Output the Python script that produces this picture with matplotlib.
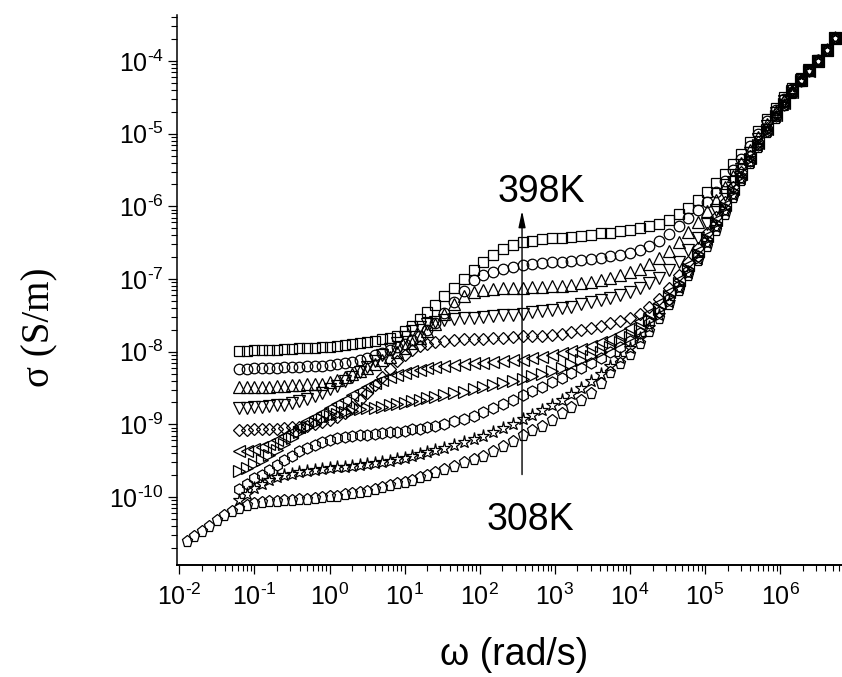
import numpy as np
import matplotlib.pyplot as plt
from matplotlib.ticker import LogLocator, NullFormatter, FuncFormatter

plt.rcParams['font.family'] = ['Liberation Sans', 'DejaVu Sans']
plt.rcParams['mathtext.fontset'] = 'custom'
plt.rcParams['mathtext.rm'] = 'Liberation Sans'
plt.rcParams['mathtext.it'] = 'Liberation Sans:italic'

# log10 of angular frequency (rad/s), shared by all temperatures
log_w = [-1.2, -1.1, -1.0, -0.9, -0.8, -0.7, -0.6, -0.5, -0.4, -0.3, -0.2, -0.1, 0.0,
         0.1, 0.2, 0.3, 0.4, 0.5, 0.6, 0.7, 0.8, 0.9, 1.0, 1.1, 1.2, 1.3, 1.4,
         1.53, 1.66, 1.79, 1.92, 2.05, 2.18, 2.31, 2.44, 2.57, 2.70, 2.83, 2.96, 3.09,
         3.22, 3.35, 3.48, 3.61, 3.74, 3.87, 4.00, 4.13, 4.26, 4.39, 4.52, 4.65, 4.78, 4.91,
         5.03, 5.14, 5.26, 5.37, 5.48, 5.60, 5.71, 5.82, 5.94, 6.05, 6.16, 6.28, 6.39,
         6.50, 6.62, 6.73]
# the 308K sweep starts lower
log_w_low = [-1.9, -1.8, -1.7, -1.6, -1.5, -1.4, -1.3]

# log10 of conductivity (S/m)
s398 = [-7.99, -7.99, -7.98, -7.98, -7.97, -7.97, -7.96, -7.96, -7.95, -7.95, -7.95, -7.94, -7.93,
        -7.92, -7.91, -7.90, -7.88, -7.86, -7.85, -7.83, -7.81, -7.78, -7.72, -7.64, -7.55, -7.46, -7.36,
        -7.23, -7.12, -7.00, -6.88, -6.77, -6.67, -6.59, -6.53, -6.49, -6.47, -6.45, -6.44, -6.43,
        -6.42, -6.41, -6.39, -6.37, -6.36, -6.34, -6.32, -6.30, -6.27, -6.24, -6.19, -6.11, -6.02, -5.91,
        -5.80, -5.68, -5.55, -5.42, -5.28, -5.12, -4.96, -4.80, -4.64, -4.50, -4.37, -4.24, -4.12,
        -3.99, -3.85, -3.68]
s388 = [-8.24, -8.24, -8.23, -8.23, -8.22, -8.22, -8.21, -8.21, -8.21, -8.20, -8.20, -8.19, -8.18,
        -8.17, -8.16, -8.14, -8.12, -8.09, -8.05, -8.02, -7.98, -7.94, -7.90, -7.84, -7.78, -7.70, -7.60,
        -7.47, -7.32, -7.16, -7.02, -6.95, -6.90, -6.86, -6.83, -6.81, -6.79, -6.78, -6.77, -6.76,
        -6.75, -6.74, -6.72, -6.71, -6.69, -6.67, -6.64, -6.60, -6.55, -6.48, -6.38, -6.27, -6.16, -6.05,
        -5.94, -5.80, -5.65, -5.50, -5.35, -5.17, -5.00, -4.83, -4.67, -4.52, -4.39, -4.25, -4.12,
        -3.99, -3.85, -3.68]
s378 = [-8.49, -8.49, -8.48, -8.48, -8.48, -8.47, -8.47, -8.46, -8.46, -8.45, -8.45, -8.44, -8.42,
        -8.39, -8.35, -8.31, -8.27, -8.22, -8.17, -8.12, -8.07, -8.01, -7.95, -7.88, -7.81, -7.72, -7.62,
        -7.48, -7.35, -7.24, -7.18, -7.15, -7.14, -7.13, -7.12, -7.12, -7.11, -7.11, -7.10, -7.09,
        -7.08, -7.06, -7.04, -7.02, -6.99, -6.95, -6.91, -6.86, -6.79, -6.71, -6.61, -6.49, -6.35, -6.21,
        -6.07, -5.91, -5.74, -5.58, -5.41, -5.22, -5.04, -4.86, -4.69, -4.54, -4.40, -4.26, -4.13,
        -4.00, -3.85, -3.68]
s368 = [-8.77, -8.77, -8.76, -8.76, -8.75, -8.74, -8.73, -8.71, -8.68, -8.65, -8.61, -8.57, -8.52,
        -8.47, -8.41, -8.35, -8.28, -8.21, -8.13, -8.05, -7.96, -7.88, -7.80, -7.72, -7.66, -7.62, -7.59,
        -7.57, -7.55, -7.54, -7.53, -7.52, -7.51, -7.50, -7.49, -7.48, -7.46, -7.44, -7.42, -7.40,
        -7.38, -7.35, -7.32, -7.29, -7.26, -7.22, -7.18, -7.12, -7.06, -6.98, -6.88, -6.76, -6.60, -6.43,
        -6.24, -6.05, -5.85, -5.66, -5.48, -5.27, -5.08, -4.89, -4.71, -4.55, -4.41, -4.26, -4.13,
        -4.00, -3.85, -3.68]
s358 = [-9.08, -9.08, -9.07, -9.07, -9.06, -9.06, -9.05, -9.04, -9.03, -9.02, -9.00, -8.97, -8.94,
        -8.90, -8.84, -8.76, -8.67, -8.57, -8.46, -8.35, -8.24, -8.13, -8.04, -7.97, -7.92, -7.89, -7.87,
        -7.85, -7.84, -7.83, -7.82, -7.82, -7.81, -7.81, -7.80, -7.79, -7.79, -7.78, -7.77, -7.75,
        -7.73, -7.70, -7.67, -7.64, -7.61, -7.58, -7.54, -7.48, -7.39, -7.28, -7.12, -6.95, -6.77, -6.57,
        -6.36, -6.15, -5.94, -5.73, -5.53, -5.31, -5.11, -4.92, -4.73, -4.57, -4.42, -4.26, -4.13,
        -4.00, -3.85, -3.68]
s348 = [-9.37, -9.36, -9.34, -9.31, -9.27, -9.22, -9.16, -9.10, -9.03, -8.96, -8.90, -8.84, -8.78,
        -8.72, -8.66, -8.60, -8.54, -8.48, -8.43, -8.39, -8.35, -8.32, -8.29, -8.27, -8.25, -8.23, -8.21,
        -8.19, -8.18, -8.17, -8.16, -8.15, -8.14, -8.13, -8.12, -8.11, -8.09, -8.07, -8.05, -8.02,
        -7.99, -7.96, -7.92, -7.87, -7.82, -7.75, -7.68, -7.58, -7.47, -7.33, -7.18, -7.01, -6.81, -6.61,
        -6.41, -6.19, -5.98, -5.76, -5.56, -5.33, -5.13, -4.93, -4.74, -4.58, -4.42, -4.26, -4.14,
        -4.00, -3.85, -3.68]
s338 = [-9.64, -9.60, -9.55, -9.49, -9.42, -9.35, -9.27, -9.19, -9.11, -9.04, -8.98, -8.93, -8.89,
        -8.86, -8.83, -8.81, -8.79, -8.78, -8.77, -8.76, -8.74, -8.72, -8.70, -8.68, -8.66, -8.64, -8.62,
        -8.60, -8.57, -8.55, -8.52, -8.49, -8.46, -8.43, -8.40, -8.38, -8.34, -8.30, -8.26, -8.22,
        -8.17, -8.12, -8.06, -8.00, -7.94, -7.87, -7.80, -7.70, -7.57, -7.41, -7.24, -7.06, -6.86, -6.66,
        -6.45, -6.23, -6.01, -5.79, -5.58, -5.35, -5.15, -4.95, -4.75, -4.59, -4.43, -4.27, -4.14,
        -4.00, -3.85, -3.68]
s328 = [-9.89, -9.82, -9.74, -9.69, -9.63, -9.56, -9.49, -9.43, -9.37, -9.32, -9.28, -9.24, -9.21,
        -9.19, -9.17, -9.16, -9.15, -9.14, -9.13, -9.12, -9.11, -9.10, -9.09, -9.07, -9.06, -9.04, -9.02,
        -8.99, -8.96, -8.92, -8.88, -8.83, -8.78, -8.72, -8.66, -8.60, -8.54, -8.48, -8.42, -8.36,
        -8.29, -8.22, -8.15, -8.08, -8.00, -7.93, -7.85, -7.74, -7.61, -7.45, -7.28, -7.10, -6.89, -6.69,
        -6.48, -6.26, -6.04, -5.81, -5.60, -5.37, -5.16, -4.96, -4.76, -4.60, -4.43, -4.27, -4.14,
        -4.00, -3.85, -3.68]
s318 = [-10.04, -9.96, -9.88, -9.82, -9.77, -9.73, -9.70, -9.68, -9.66, -9.64, -9.63, -9.61, -9.60,
        -9.59, -9.58, -9.57, -9.56, -9.54, -9.53, -9.52, -9.50, -9.48, -9.46, -9.43, -9.41, -9.38, -9.35,
        -9.32, -9.28, -9.24, -9.20, -9.16, -9.11, -9.05, -8.99, -8.93, -8.87, -8.80, -8.73, -8.66,
        -8.58, -8.50, -8.41, -8.31, -8.20, -8.08, -7.95, -7.81, -7.66, -7.49, -7.31, -7.12, -6.92, -6.72,
        -6.51, -6.29, -6.07, -5.84, -5.62, -5.39, -5.17, -4.97, -4.77, -4.60, -4.44, -4.27, -4.14,
        -4.00, -3.85, -3.68]
s308_low = [-10.61, -10.54, -10.47, -10.40, -10.32, -10.25, -10.19]
s308 = [-10.15, -10.11, -10.08, -10.07, -10.06, -10.05, -10.04, -10.04, -10.03, -10.02, -10.01, -10.00, -9.99,
        -9.98, -9.96, -9.94, -9.93, -9.91, -9.89, -9.86, -9.84, -9.81, -9.79, -9.76, -9.73, -9.70, -9.66,
        -9.62, -9.57, -9.52, -9.47, -9.43, -9.37, -9.30, -9.23, -9.15, -9.08, -9.02, -8.94, -8.85,
        -8.76, -8.67, -8.57, -8.43, -8.28, -8.15, -8.03, -7.88, -7.71, -7.53, -7.35, -7.15, -6.95, -6.74,
        -6.54, -6.33, -6.10, -5.87, -5.64, -5.40, -5.18, -4.98, -4.78, -4.61, -4.44, -4.27, -4.14,
        -4.00, -3.85, -3.68]

temps = [398, 388, 378, 368, 358, 348, 338, 328, 318, 308]
curves = [s398, s388, s378, s368, s358, s348, s338, s328, s318, s308_low + s308]
freqs = [log_w] * 9 + [log_w_low + log_w]
markers = ['s', 'o', '^', 'v', 'D', '<', '>', 'h', '*', 'p']
msizes = [7.0, 7.6, 8.4, 8.4, 6.2, 8.4, 8.4, 8.0, 9.5, 8.2]


def decade_label(v, pos):
    e = int(round(np.log10(v)))
    return '$10^{%s}$' % str(e).replace('-', '\u2010')


fig = plt.figure(figsize=(8.42, 6.77), dpi=100)
ax = fig.add_axes([177 / 842, 112 / 677, 665 / 842, 550 / 677])

for T, w, s, m, ms in zip(temps, freqs, curves, markers, msizes):
    ax.plot(10 ** np.array(w), 10 ** np.array(s), linestyle='none', marker=m, ms=ms,
            mfc='none', mec='black', mew=0.9, label='%dK' % T)

ax.set_xscale('log')
ax.set_yscale('log')
ax.set_xlim(10 ** -2.031, 10 ** 6.824)
ax.set_ylim(10 ** -10.935, 10 ** -3.367)

for a in (ax.xaxis, ax.yaxis):
    a.set_major_locator(LogLocator(base=10, numticks=30))
    a.set_major_formatter(FuncFormatter(decade_label))
    a.set_minor_locator(LogLocator(base=10, subs=np.arange(2, 10), numticks=200))
    a.set_minor_formatter(NullFormatter())

ax.spines['top'].set_visible(False)
ax.spines['right'].set_visible(False)
ax.spines['left'].set_linewidth(1.1)
ax.spines['bottom'].set_linewidth(1.4)
ax.tick_params(which='major', direction='out', length=6.5, width=0.9, labelsize=18)
ax.tick_params(which='minor', direction='out', length=4, width=0.8)
ax.tick_params(axis='x', which='major', pad=7)
ax.tick_params(axis='y', which='major', pad=3)

ax.set_xlabel('ω (rad/s)', fontsize=27)
ax.xaxis.label.set_va('center')
ax.xaxis.set_label_coords((514 - 177) / 665, (565 - 655) / 550)
ax.set_ylabel('σ (S/m)', fontsize=28, family=['Liberation Serif', 'DejaVu Serif'])
ax.yaxis.label.set_va('center')
ax.yaxis.set_label_coords((40 - 177) / 665, (565 - 327) / 550)

# temperature arrow
ax.annotate('', xy=(366, 8.7e-7), xytext=(366, 2.04e-10),
            arrowprops=dict(arrowstyle='-|>,head_length=0.7,head_width=0.15', color='black',
                            lw=1.0, mutation_scale=14, shrinkA=0, shrinkB=0))
ax.text(656, 1.15e-6, '398K', fontsize=27, ha='center', va='baseline')
ax.text(468, 3.54e-11, '308K', fontsize=27, ha='center', va='baseline')

fig.savefig('out.png', dpi=100)
